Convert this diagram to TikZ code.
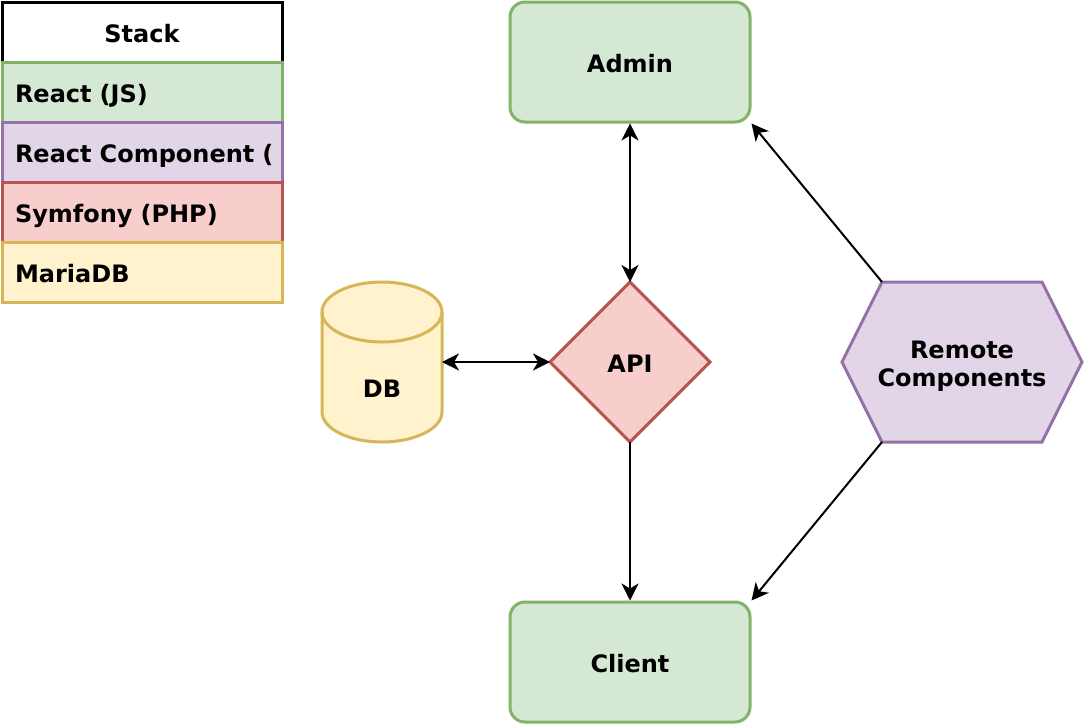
\documentclass[tikz,border=0pt]{standalone}
\usepackage{fontspec}
\setmainfont{DejaVu Sans}
\usetikzlibrary{shapes.geometric}
\usetikzlibrary{arrows.meta}
\definecolor{greenfill}{HTML}{D5E8D4}
\definecolor{greenline}{HTML}{82B366}
\definecolor{purplefill}{HTML}{E1D5E7}
\definecolor{purpleline}{HTML}{9673A6}
\definecolor{redfill}{HTML}{F8CECC}
\definecolor{redline}{HTML}{B85450}
\definecolor{yellowfill}{HTML}{FFF2CC}
\definecolor{yellowline}{HTML}{D6B656}

\begin{document}
\begin{tikzpicture}[x=1pt,y=-1pt,>={Stealth[length=17pt,width=17pt,inset=5pt]}]
      \tikzstyle label=[font=\fontsize{24}{28}\selectfont\bfseries,
      text height=20.6pt, text depth=0pt]
      \tikzstyle app=[label, draw=greenline, fill=greenfill, line width=3pt,
      rounded corners=15pt, minimum width=240pt, minimum height=120pt]
      \tikzstyle stackrow=[label, line width=3pt, minimum width=280pt,
      minimum height=60pt, text width=254pt, inner xsep=13pt, align=left]
      \tikzstyle link=[line width=2pt, <->]
      \tikzstyle flow=[line width=2pt, ->]
      \useasboundingbox (0,0) rectangle (1086,726);
      % stack legend
      \node [label, draw=black, fill=white, line width=3pt, minimum width=280pt,
      minimum height=60pt] (stack) at (142,32) {Stack};
      \node [stackrow, draw=greenline, fill=greenfill] (stack react) at (142,92) {React (JS)};
      \node [stackrow, draw=purpleline, fill=purplefill] (stack component) at (142,152) {\mbox{React Component (}};
      \node [stackrow, draw=redline, fill=redfill] (stack symfony) at (142,212) {Symfony (PHP)};
      \node [stackrow, draw=yellowline, fill=yellowfill] (stack mariadb) at (142,272) {MariaDB};
      % apps
      \node [app] (admin) at (630,62) {Admin};
      \node [app] (client) at (630,662) {Client};
      \node [label, diamond, draw=redline, fill=redfill, line width=3pt, inner sep=0pt,
      minimum width=160pt, minimum height=160pt, outer sep=0pt] (api) at (630,362) {API};
      % database
      \draw [draw=yellowline, fill=yellowfill, line width=3pt]
      (322,312) -- (322,412) arc [start angle=180, end angle=360, x radius=60, y radius=-30]
      -- (442,312) arc [start angle=0, end angle=180, x radius=60, y radius=-30] -- cycle;
      \draw [draw=yellowline, line width=3pt] (322,312) arc [start angle=180, end angle=360, x radius=60, y radius=-30];
      \node [label, minimum width=120pt, minimum height=106pt, outer sep=0pt] (db) at (382,387) {DB};
      % remote components
      \coordinate (remote nw) at (882,282);
      \coordinate (remote sw) at (882,442);
      \draw [draw=purpleline, fill=purplefill, line width=3pt, line join=miter]
      (842,362) -- (remote nw) -- (1042,282) -- (1082,362) -- (1042,442) -- (remote sw) -- cycle;
      \node [font=\fontsize{24}{28}\selectfont\bfseries, align=center] (remote) at (962,366) {Remote\\Components};
      % connectors
      \draw [link] (admin.south) -- (api.north);
      \draw [link] (db.east |- api.west) -- (api.west);
      \draw [flow] (api.south) -- (client.north);
      \draw [flow] (remote nw) -- (admin.south east);
      \draw [flow] (remote sw) -- (client.north east);
    \end{tikzpicture}
\end{document}
